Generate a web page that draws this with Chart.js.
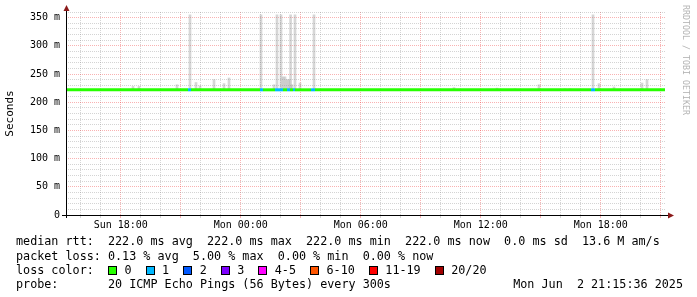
<!DOCTYPE html>
<html>
<head>
<meta charset="utf-8">
<script src="https://cdn.jsdelivr.net/npm/chart.js@4.4.1/dist/chart.umd.min.js"></script>
<style>
html,body{margin:0;padding:0;background:#fff;}
#wrap{position:relative;width:697px;height:297px;overflow:hidden;background:#fff;}
#c{position:absolute;left:0;top:0;}
.row{position:absolute;font-family:"DejaVu Sans Mono",monospace;font-size:11.75px;line-height:14px;white-space:pre;color:#000;}
.lrow{display:flex;align-items:center;}
.box{display:inline-block;width:7px;height:7px;border:1px solid #000;margin-right:7.5px;}
.lab{margin-right:14px;}
#credit{position:absolute;left:691px;top:5px;transform:rotate(90deg);transform-origin:0 0;font-family:"DejaVu Sans Mono",monospace;font-size:8.3px;line-height:10px;color:#b4b4b4;white-space:pre;}
</style>
</head>
<body>
<div id="wrap">
<canvas id="c" width="697" height="297"></canvas>
<div class="row" id="r1" style="left:16px;top:234px;"></div>
<div class="row" id="r2" style="left:16px;top:249px;"></div>
<div class="row lrow" id="r3" style="left:16px;top:263px;"></div>
<div class="row" id="r4" style="left:16px;top:277px;"></div>
<div class="row" id="r4b" style="right:14px;top:277px;"></div>
<div id="credit">RRDTOOL / TOBI OETIKER</div>
</div>
<script>
// ---- data ----
const startHour = 15.26;   // Sun 15:15:36 (hours since Sun 00:00)
const endHour = 45.26;     // Mon 21:15:36
const xTickHours = [18, 24, 30, 36, 42];
const xTickLabels = ["Sun 18:00", "Mon 00:00", "Mon 06:00", "Mon 12:00", "Mon 18:00"];
const yTickValues = [0, 50, 100, 150, 200, 250, 300, 350];
const yTickLabels = ["0", "50 m", "100 m", "150 m", "200 m", "250 m", "300 m", "350 m"];

// median rtt (ms) with the loss count of the segment that starts at each point
const medianTimes = [15.26, 21.36, 21.51, 24.96, 25.11, 25.71, 26.11, 26.31, 26.46, 26.61, 26.71, 27.51, 27.71, 41.51, 41.71, 45.21];
const medianRtt   = [222, 222, 222, 222, 222, 222, 222, 222, 222, 222, 222, 222, 222, 222, 222, 222];
const segmentLoss = [0, 1, 0, 1, 0, 1, 0, 1, 0, 1, 0, 1, 0, 1, 0, 0];

// smoke (max ping per sample, ms)
const smokeTimes = [18.61, 18.91, 20.81, 21.46, 21.76, 21.96, 22.66, 23.16, 23.41, 25.01, 25.66, 25.81, 26.01, 26.11, 26.21, 26.31, 26.41, 26.49, 26.56, 26.71, 26.96, 27.66, 34.66, 36.81, 37.71, 38.91, 40.21, 40.46, 41.61, 41.91, 42.66, 44.06, 44.31];
const smokeTops  = [228, 228, 231, 355, 235, 229, 240, 233, 243, 355, 231, 355, 355, 245, 245, 240, 240, 355, 231, 355, 234, 355, 226, 225, 224, 231, 224, 224, 355, 233, 227, 234, 240];
const smokeBase = 221;

const lossLabels = ["0", "1", "2", "3", "4-5", "6-10", "11-19", "20/20"];
const lossColors = ["#26ff00", "#00b8ff", "#0059ff", "#7e00ff", "#ff00ff", "#ff5500", "#ff0000", "#a10000"];

const statLine1 = "median rtt:  222.0 ms avg  222.0 ms max  222.0 ms min  222.0 ms now  0.0 ms sd  13.6 M am/s";
const statLine2 = "packet loss: 0.13 % avg  5.00 % max  0.00 % min  0.00 % now";
const probeLine = "probe:       20 ICMP Echo Pings (56 Bytes) every 300s";
const dateLine = "Mon Jun  2 21:15:36 2025";

// ---- text ----
document.getElementById('r1').textContent = statLine1;
document.getElementById('r2').textContent = statLine2;
document.getElementById('r4').textContent = probeLine;
document.getElementById('r4b').textContent = dateLine;
const r3 = document.getElementById('r3');
const head = document.createElement('span');
head.textContent = "loss color:  ";
r3.appendChild(head);
lossLabels.forEach((l, i) => {
  const b = document.createElement('span'); b.className = 'box'; b.style.background = lossColors[i];
  const t = document.createElement('span'); t.className = 'lab'; t.textContent = l;
  r3.appendChild(b); r3.appendChild(t);
});

// ---- chart ----
const RED = 'rgba(235,0,0,0.3)';
const GRAY = 'rgba(128,128,128,0.34)';
const MONO = '"DejaVu Sans Mono", monospace';

const axesPlugin = {
  id: 'rrdAxes',
  afterDraw(chart) {
    const { ctx, chartArea: a } = chart;
    ctx.save();
    ctx.strokeStyle = '#000';
    ctx.lineWidth = 1;
    ctx.beginPath();
    ctx.moveTo(a.left + 0.5, a.bottom + 3);
    ctx.lineTo(a.left + 0.5, a.top - 3);
    ctx.moveTo(a.left - 4, a.bottom + 0.5);
    ctx.lineTo(a.right + 4, a.bottom + 0.5);
    ctx.stroke();
    ctx.fillStyle = '#8b1a1a';
    ctx.beginPath();
    ctx.moveTo(a.left + 0.5, a.top - 7);
    ctx.lineTo(a.left - 2.5, a.top - 1);
    ctx.lineTo(a.left + 3.5, a.top - 1);
    ctx.closePath();
    ctx.fill();
    ctx.beginPath();
    ctx.moveTo(a.right + 8, a.bottom + 0.5);
    ctx.lineTo(a.right + 2, a.bottom - 2.5);
    ctx.lineTo(a.right + 2, a.bottom + 3.5);
    ctx.closePath();
    ctx.fill();
    ctx.restore();
  }
};

new Chart(document.getElementById('c'), {
  type: 'bar',
  data: {
    datasets: [
      {
        type: 'line',
        label: 'median',
        data: medianTimes.map((t, i) => ({ x: t, y: medianRtt[i] })),
        borderColor: lossColors[0],
        borderWidth: 3,
        borderCapStyle: 'butt',
        pointRadius: 0,
        tension: 0,
        segment: { borderColor: c => lossColors[segmentLoss[c.p0DataIndex]] },
        order: 0
      },
      {
        type: 'bar',
        label: 'smoke',
        data: smokeTimes.map((t, i) => ({ x: t, y: [smokeBase, smokeTops[i]] })),
        backgroundColor: 'rgba(140,140,140,0.36)',
        borderWidth: 0,
        barThickness: 2,
        grouped: false,
        order: 1
      }
    ]
  },
  options: {
    responsive: false,
    animation: false,
    devicePixelRatio: 1,
    layout: { padding: { left: 0, right: 31, top: 12, bottom: 62 } },
    plugins: { legend: { display: false }, tooltip: { enabled: false } },
    scales: {
      x: {
        type: 'linear',
        offset: false,
        min: startHour,
        max: endHour,
        afterBuildTicks(s) {
          const t = [];
          for (let h = Math.ceil(startHour); h <= Math.floor(endHour); h++) t.push({ value: h });
          s.ticks = t;
        },
        afterFit(s) { s.height = 20; },
        grid: {
          offset: false,
          color: c => (c.tick && c.tick.value % 3 === 0) ? RED : GRAY,
          tickColor: c => (c.tick && c.tick.value % 3 === 0) ? RED : GRAY,
          lineWidth: 1,
          drawTicks: true,
          tickLength: 3
        },
        border: { display: false, dash: [1, 1] },
        ticks: {
          autoSkip: false, maxRotation: 0, minRotation: 0, padding: 1, color: '#000',
          font: { family: MONO, size: 10 },
          callback: v => { const i = xTickHours.indexOf(v); return i >= 0 ? xTickLabels[i] : ''; }
        }
      },
      y: {
        min: 0,
        max: 360,
        afterBuildTicks(s) {
          const t = [];
          for (let v = 0; v <= 360; v += 10) t.push({ value: v });
          s.ticks = t;
        },
        afterFit(s) { s.width = 66; },
        grid: {
          color: c => (c.tick && c.tick.value % 50 === 0) ? RED : GRAY,
          lineWidth: 1,
          drawTicks: false
        },
        border: { display: false, dash: [1, 1] },
        ticks: {
          padding: 6, color: '#000', autoSkip: false,
          font: { family: MONO, size: 10 },
          callback: v => { const i = yTickValues.indexOf(v); return i >= 0 ? yTickLabels[i] : ''; }
        },
        title: {
          display: true, text: 'Seconds', color: '#000',
          font: { family: MONO, size: 11 },
          padding: { top: 4, bottom: 0 }
        }
      }
    }
  },
  plugins: [axesPlugin]
});
</script>
</body>
</html>
